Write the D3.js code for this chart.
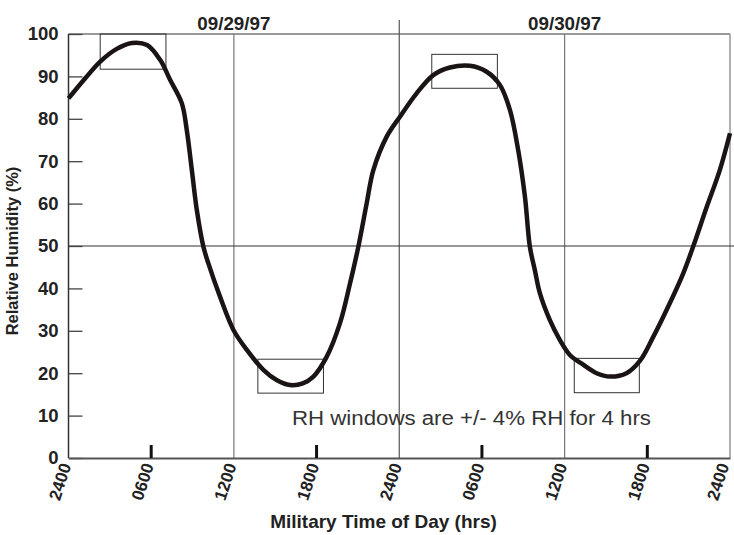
<!DOCTYPE html>
<html>
<head>
<meta charset="utf-8">
<script src="https://cdn.jsdelivr.net/npm/d3@7"></script>
<style>
  body { margin: 0; background: #fff; }
  text { font-family: "Liberation Sans", Arial, sans-serif; }
</style>
</head>
<body>
<div id="svgContainer"></div>
<script>
// hours since 2400 on 09/28/97, relative humidity (%)
var hours = [0, 1.2, 2.3, 3.5, 4.6, 5.7, 6.65, 7.37, 8.22, 8.58, 8.95, 9.31, 9.79, 10.15, 11.0, 11.97,
  12.94, 14.14, 15.1, 16.08, 17.0, 17.77, 18.74, 19.7, 20.43, 21.03, 21.64, 22.12, 23.09, 24.05,
  25.26, 26.47, 27.68, 29.13, 30.34, 31.3, 32.03, 32.63, 33.12, 33.48, 33.84, 34.21, 34.93, 35.66,
  36.38, 37.35, 38.32, 39.28, 40.49, 41.46, 42.42, 43.63, 44.6, 45.32, 46.29, 47.26, 48];
var rh = [84.8, 89.5, 93.5, 96.5, 97.9, 97.4, 93.9, 89.2, 83.7, 77.4, 67.9, 58.5, 49.8, 45.9, 38.0, 30.2,
  25.5, 20.8, 18.4, 17.2, 17.6, 19.2, 23.9, 31.8, 41.2, 49.8, 60.1, 67.9, 75.8, 80.5,
  86.0, 90.3, 92.1, 92.5, 91.1, 88.0, 82.1, 72.6, 61.6, 49.8, 44.3, 38.8, 32.5, 27.8,
  24.3, 22.0, 20.0, 19.2, 20.0, 22.9, 28.5, 36.5, 43.5, 49.8, 59.0, 67.9, 76.6];

// RH windows
var winStart = [2.3, 13.74, 26.36, 36.7];
var winEnd = [7.07, 18.5, 31.12, 41.42];
var winLow = [91.7, 15.3, 87.2, 15.4];
var winHigh = [100, 23.3, 95.2, 23.5];

var tickHours = [0, 6, 12, 18, 24, 30, 36, 42, 48];
var tickLabels = ["2400", "0600", "1200", "1800", "2400", "0600", "1200", "1800", "2400"];
var gridHours = [12, 24, 36];
var dateHours = [12, 36];
var dateLabels = ["09/29/97", "09/30/97"];
var yTicks = [0, 10, 20, 30, 40, 50, 60, 70, 80, 90, 100];

var width = 734, height = 535;

var svg = d3.select("#svgContainer").append("svg")
    .attr("width", width)
    .attr("height", height)
    .style("display", "block");

var x = d3.scaleLinear().domain([0, 48]).range([68.5, 730]);
var y = d3.scaleLinear().domain([0, 100]).range([458, 34]);

// frame
svg.append("line")
    .attr("x1", x(0)).attr("x2", x(48))
    .attr("y1", y(100)).attr("y2", y(100))
    .attr("stroke", "#777").attr("stroke-width", 1.3);
svg.append("line")
    .attr("x1", x(48)).attr("x2", x(48))
    .attr("y1", y(100)).attr("y2", y(0))
    .attr("stroke", "#888").attr("stroke-width", 1.3);

// grid
svg.append("g").selectAll("line")
    .data(gridHours)
    .enter().append("line")
    .attr("x1", d => x(d)).attr("x2", d => x(d))
    .attr("y1", d => d == 24 ? 20 : y(100))
    .attr("y2", y(0))
    .attr("stroke", d => d == 24 ? "#555" : "#777")
    .attr("stroke-width", 1.2);
svg.append("line")
    .attr("x1", x(0)).attr("x2", width)
    .attr("y1", y(50)).attr("y2", y(50))
    .attr("stroke", "#333").attr("stroke-width", 1.2);

// y axis
var yAxis = svg.append("g")
    .attr("transform", "translate(" + x(0) + ",0)")
    .call(d3.axisLeft(y).tickValues(yTicks).tickSize(-14).tickPadding(10));
yAxis.select(".domain").remove();
yAxis.selectAll(".tick line").attr("stroke", "#444").attr("stroke-width", 1.3);
yAxis.selectAll(".tick text")
    .attr("font-size", 18.5).attr("font-weight", "bold").attr("fill", "#222")
    .attr("font-family", "Liberation Sans, Arial, sans-serif");
svg.append("line")
    .attr("x1", x(0)).attr("x2", x(0))
    .attr("y1", y(100)).attr("y2", y(0))
    .attr("stroke", "#333").attr("stroke-width", 1.5);

// x axis
var xAxis = svg.append("g")
    .attr("transform", "translate(0," + y(0) + ")")
    .call(d3.axisBottom(x).tickValues(tickHours).tickSize(0)
        .tickFormat((d, i) => tickLabels[i]));
xAxis.select(".domain").attr("stroke", "#555").attr("stroke-width", 1.8);
xAxis.selectAll(".tick text")
    .attr("font-size", 17).attr("font-weight", "bold").attr("fill", "#222")
    .attr("font-family", "Liberation Sans, Arial, sans-serif")
    .attr("text-anchor", "end")
    .attr("dy", "0.3em")
    .attr("transform", (d, i) => "translate(" + (i == tickHours.length - 1 ? -6 : -2.5) + ",6) rotate(-72)")
    .attr("x", 0).attr("y", 0);

svg.append("g").selectAll("line")
    .data(tickHours.filter(d => d % 12 == 6))
    .enter().append("line")
    .attr("x1", d => x(d)).attr("x2", d => x(d))
    .attr("y1", y(0)).attr("y2", y(0) - 13)
    .attr("stroke", "#111").attr("stroke-width", 3);

// RH windows
svg.append("g").selectAll("rect")
    .data(winStart)
    .enter().append("rect")
    .attr("x", (d, i) => x(d))
    .attr("y", (d, i) => y(winHigh[i]))
    .attr("width", (d, i) => x(winEnd[i]) - x(d))
    .attr("height", (d, i) => y(winLow[i]) - y(winHigh[i]))
    .attr("fill", "none")
    .attr("stroke", "#333")
    .attr("stroke-width", 1);

// curve
var points = hours.map((h, i) => [h, rh[i]]);
svg.append("path")
    .datum(points)
    .attr("fill", "none")
    .attr("stroke", "#1a1414")
    .attr("stroke-width", 4.5)
    .attr("stroke-linejoin", "round")
    .attr("d", d3.line()
        .x(d => x(d[0]))
        .y(d => y(d[1]))
        .curve(d3.curveCatmullRom.alpha(0.5)));

// dates
svg.append("g").selectAll("text")
    .data(dateHours)
    .enter().append("text")
    .attr("x", d => x(d))
    .attr("y", 30)
    .attr("text-anchor", "middle")
    .attr("font-size", 18.8)
    .attr("font-weight", "bold")
    .attr("fill", "#222")
    .text((d, i) => dateLabels[i]);

// annotation
svg.append("text")
    .attr("x", 292)
    .attr("y", 425)
    .attr("font-family", "Lato, 'Noto Sans', sans-serif")
    .attr("font-size", 20)
    .attr("fill", "#333")
    .attr("textLength", 359)
    .attr("lengthAdjust", "spacingAndGlyphs")
    .text("RH windows are +/- 4% RH for 4 hrs");

// axis titles
svg.append("text")
    .attr("x", 383.5)
    .attr("y", 528)
    .attr("text-anchor", "middle")
    .attr("font-size", 19)
    .attr("font-weight", "bold")
    .attr("fill", "#222")
    .text("Military Time of Day (hrs)");

svg.append("text")
    .attr("transform", "translate(18,251) rotate(-90)")
    .attr("text-anchor", "middle")
    .attr("font-size", 16.5)
    .attr("font-weight", "bold")
    .attr("fill", "#222")
    .text("Relative Humidity (%)");
</script>
</body>
</html>
